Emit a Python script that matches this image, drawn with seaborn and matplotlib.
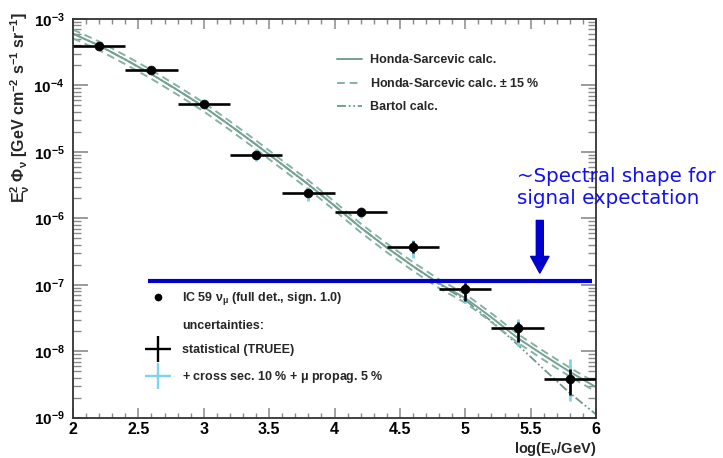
import numpy as np
import pandas as pd
import seaborn as sns
import matplotlib.pyplot as plt
from matplotlib.lines import Line2D
from matplotlib.ticker import LogLocator, MultipleLocator, FuncFormatter, NullFormatter

# Curvas de modelo: log10(E^2 Phi)
log_e_model = [2.0, 2.2, 2.4, 2.6, 2.8, 3.0, 3.2, 3.4, 3.6, 3.8, 4.0,
               4.2, 4.4, 4.6, 4.8, 5.0, 5.2, 5.4, 5.6, 5.8, 6.0]
honda_log = [-3.22, -3.40, -3.61, -3.83, -4.07, -4.32, -4.60, -4.89, -5.19, -5.49, -5.81,
             -6.14, -6.44, -6.72, -6.98, -7.20, -7.49, -7.80, -8.06, -8.31, -8.54]
bartol_log = [-3.22, -3.40, -3.61, -3.83, -4.07, -4.32, -4.60, -4.89, -5.19, -5.49, -5.81,
              -6.14, -6.44, -6.72, -6.99, -7.23, -7.55, -7.90, -8.27, -8.63, -8.95]
band = 0.15

# Puntos IC59 (TRUEE)
log_e_data = [2.2, 2.6, 3.0, 3.4, 3.8, 4.2, 4.6, 5.0, 5.4, 5.8]
flux_data = [3.9e-4, 1.7e-4, 5.2e-5, 9.1e-6, 2.4e-6, 1.26e-6, 3.7e-7, 8.7e-8, 2.2e-8, 3.8e-9]
stat_low = [3.8e-4, 1.65e-4, 5.0e-5, 8.6e-6, 2.2e-6, 1.17e-6, 3.0e-7, 5.7e-8, 1.4e-8, 2.2e-9]
stat_high = [4.0e-4, 1.75e-4, 5.4e-5, 9.6e-6, 2.6e-6, 1.35e-6, 4.5e-7, 1.07e-7, 2.8e-8, 5.5e-9]
tot_low = [3.6e-4, 1.55e-4, 4.6e-5, 7.2e-6, 1.8e-6, 1.0e-6, 2.5e-7, 5.4e-8, 1.2e-8, 1.8e-9]
tot_high = [4.3e-4, 1.9e-4, 5.8e-5, 1.1e-5, 3.0e-6, 1.5e-6, 4.7e-7, 1.1e-7, 3.1e-8, 7.6e-9]
bin_half = 0.2

# Nivel de la señal esperada
signal_level = 1.15e-7
signal_range = [2.57, 5.97]
arrow_x = 5.57
arrow_from = 9.3e-7
arrow_to = 1.5e-7

sns.set_style("ticks")
plt.rcParams['font.family'] = ['Liberation Sans', 'DejaVu Sans']
plt.rcParams['font.weight'] = 'bold'
plt.rcParams['axes.labelweight'] = 'bold'
plt.rcParams['mathtext.fontset'] = 'custom'
plt.rcParams['mathtext.rm'] = 'Liberation Sans:bold'
plt.rcParams['mathtext.it'] = 'Liberation Sans:bold:italic'
plt.rcParams['mathtext.bf'] = 'Liberation Sans:bold'
plt.rcParams['mathtext.default'] = 'rm'

honda_col = '#76a090'
band_col = '#84b2a6'
bartol_col = '#6f9884'
cyan = '#7dd3e8'
blue = '#0000cc'

df_model = pd.DataFrame({
    'logE': log_e_model,
    'honda': 10 ** np.array(honda_log),
    'bartol': 10 ** np.array(bartol_log),
})
df_model['up'] = df_model['honda'] * (1 + band)
df_model['down'] = df_model['honda'] * (1 - band)

df_data = pd.DataFrame({'logE': log_e_data, 'flux': flux_data})
flux = np.array(flux_data)

fig = plt.figure(figsize=(7.23, 4.58), dpi=100)
ax = fig.add_axes([0.101, 0.088, 0.7234, 0.8705])

# Curvas
dash = (0, (4, 2.5))
dashdotdot = (0, (5, 1.5, 1, 1.5, 1, 1.5))
sns.lineplot(data=df_model, x='logE', y='bartol', ax=ax, color=bartol_col, lw=1.3, linestyle=dashdotdot)
sns.lineplot(data=df_model, x='logE', y='up', ax=ax, color=band_col, lw=1.4, linestyle=dash)
sns.lineplot(data=df_model, x='logE', y='down', ax=ax, color=band_col, lw=1.4, linestyle=dash)
sns.lineplot(data=df_model, x='logE', y='honda', ax=ax, color=honda_col, lw=1.4)

# Errores
ax.errorbar(log_e_data, flux, yerr=[flux - np.array(tot_low), np.array(tot_high) - flux],
            fmt='none', ecolor=cyan, elinewidth=2.0, capsize=0, zorder=4)
ax.errorbar(log_e_data, flux, xerr=bin_half,
            yerr=[flux - np.array(stat_low), np.array(stat_high) - flux],
            fmt='none', ecolor='black', elinewidth=1.9, capsize=0, zorder=5)
sns.scatterplot(data=df_data, x='logE', y='flux', ax=ax, color='black', s=40,
                edgecolor='black', zorder=6)

# Línea de la señal
ax.hlines(signal_level, signal_range[0], signal_range[1], color=blue, lw=3, zorder=7)
ax.annotate('', xy=(arrow_x, arrow_to), xytext=(arrow_x, arrow_from),
            arrowprops=dict(arrowstyle='simple,head_width=1.1,head_length=1.0,tail_width=0.42',
                            color=blue, mutation_scale=12, shrinkA=0, shrinkB=0),
            annotation_clip=False, zorder=8)
fig.text(517 / 723, 1 - 167 / 458, '~Spectral shape for\nsignal expectation',
         ha='left', va='top', color='#1010f0', fontsize=14.3, fontweight='normal',
         family='DejaVu Sans', linespacing=1.2)

ax.set_yscale('log')
ax.set_xlim(2, 6)
ax.set_ylim(1e-9, 1e-3)

ax.xaxis.set_major_locator(MultipleLocator(0.5))
ax.xaxis.set_minor_locator(MultipleLocator(0.1))
ax.xaxis.set_major_formatter(FuncFormatter(lambda v, p: '%g' % v))
ax.yaxis.set_major_locator(LogLocator(base=10, numticks=20))
ax.yaxis.set_minor_locator(LogLocator(base=10, subs=np.arange(2, 10), numticks=20))
ax.yaxis.set_minor_formatter(NullFormatter())
ax.yaxis.set_major_formatter(FuncFormatter(lambda v, p: r'$10^{%d}$' % round(np.log10(v))))

ax.tick_params(which='both', direction='in', top=True, right=True, color='#8a8a8a', labelcolor='black')
ax.tick_params(axis='x', which='major', length=7, width=1.1, labelsize=11.5, pad=3)
ax.tick_params(axis='x', which='minor', length=3.5, width=1.0)
ax.tick_params(axis='y', which='major', length=11, width=1.2, labelsize=11, pad=6)
ax.tick_params(axis='y', which='minor', length=6, width=1.0)
for s in ax.spines.values():
    s.set_color('#333333')
    s.set_linewidth(1.3)

ax.set_xlabel(r'log(E$_{\nu}$/GeV)', fontsize=10.5, fontweight='bold', loc='right')
ax.xaxis.set_label_coords(1.0, -0.056)
ax.set_ylabel(r'E$_{\nu}^{2}$ $\Phi_{\nu}$ [GeV cm$^{-2}$ s$^{-1}$ sr$^{-1}$]',
              fontsize=11.5, fontweight='bold', loc='top')
ax.yaxis.set_label_coords(-0.078, 1.017)

# Leyenda de modelos
model_handles = [
    Line2D([], [], color=honda_col, lw=1.4),
    Line2D([], [], color=band_col, lw=1.4, linestyle=dash),
    Line2D([], [], color=bartol_col, lw=1.3, linestyle=dashdotdot),
]
model_labels = ['Honda-Sarcevic calc.', 'Honda-Sarcevic calc. $\\pm$ 15 %', 'Bartol calc.']
leg1 = ax.legend(model_handles, model_labels, loc='upper left', bbox_to_anchor=(0.492, 0.928),
                 frameon=False, fontsize=9, borderpad=0, handlelength=2.0, handletextpad=0.7,
                 labelspacing=0.88)
ax.add_artist(leg1)

# Leyenda de datos
data_handles = [
    Line2D([], [], ls='none', marker='o', color='black', ms=4.5),
    Line2D([], [], ls='none'),
    Line2D([], [], ls='none', marker='+', color='black', ms=19, mew=1.7),
    Line2D([], [], ls='none', marker='+', color=cyan, ms=19, mew=1.7),
]
data_labels = [r'IC 59 $\nu_{\mu}$ (full det., sign. 1.0)', 'uncertainties:',
               'statistical (TRUEE)', r'+ cross sec. 10 % + $\mu$ propag. 5 %']
ax.legend(data_handles, data_labels, loc='upper left', bbox_to_anchor=(0.125, 0.335),
          frameon=False, fontsize=9, borderpad=0, handlelength=2.2, handletextpad=0.8,
          labelspacing=1.0)

fig.savefig('out.png', dpi=100)
